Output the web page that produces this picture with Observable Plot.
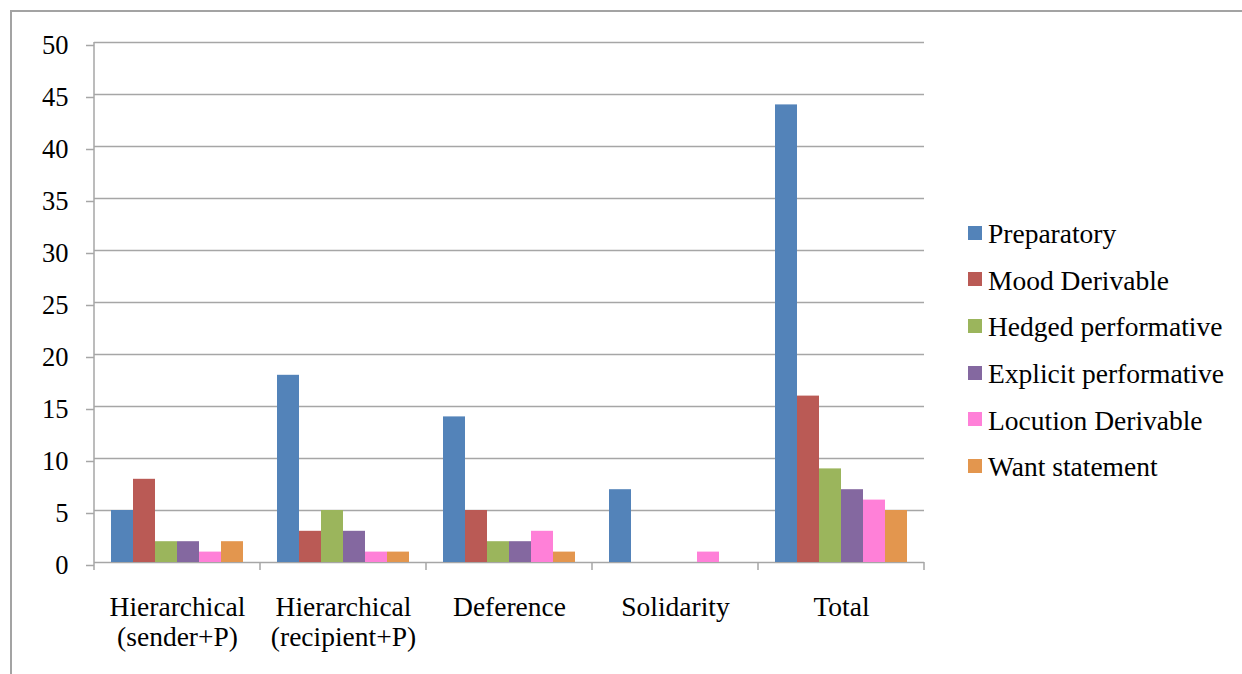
<!DOCTYPE html>
<html>
<head>
<meta charset="utf-8">
<script src="https://cdn.jsdelivr.net/npm/d3@7"></script>
<script src="https://cdn.jsdelivr.net/npm/@observablehq/plot@0.6"></script>
<style>
  html, body { margin: 0; padding: 0; background: #fff; overflow: hidden; }
  #wrap { position: relative; width: 1242px; height: 674px; }
  #border { position: absolute; left: 10px; top: 10px; width: 1300px; height: 800px; border: 2px solid #a3a3a3; box-sizing: border-box; pointer-events: none; }
  #chart { position: absolute; left: 0; top: 0; }
  #legend { position: absolute; left: 968px; top: 211px; font-family: "Liberation Serif", "Times New Roman", serif; font-size: 27.5px; color: #000; }
  .row { height: 46.6px; display: flex; align-items: center; white-space: nowrap; }
  .sw { width: 14px; height: 14px; margin-right: 6px; margin-top: -3px; flex: none; }
</style>
</head>
<body>
<div id="wrap">
  <div id="border"></div>
  <div id="chart"></div>
  <div id="legend"></div>
</div>
<script>
const groups = ["Hierarchical\n(sender+P)", "Hierarchical\n(recipient+P)", "Deference", "Solidarity", "Total"];
const series = ["Preparatory", "Mood Derivable", "Hedged performative", "Explicit performative", "Locution Derivable", "Want statement"];
const preparatory = [5, 18, 14, 7, 44];
const moodDerivable = [8, 3, 5, 0, 16];
const hedgedPerformative = [2, 5, 2, 0, 9];
const explicitPerformative = [2, 3, 2, 0, 7];
const locutionDerivable = [1, 1, 3, 1, 6];
const wantStatement = [2, 1, 1, 0, 5];
const yTicks = [0, 5, 10, 15, 20, 25, 30, 35, 40, 45, 50];
const colors = ["#5383B9", "#BA5A55", "#9BB55C", "#8468A0", "#FF80D8", "#E3964E"];

const seriesValues = [preparatory, moodDerivable, hedgedPerformative, explicitPerformative, locutionDerivable, wantStatement];
const data = [];
groups.forEach((g, gi) => {
  series.forEach((s, si) => {
    data.push({group: g, series: s, value: seriesValues[si][gi]});
  });
});

const gray = "#a6a6a6";
const plot = Plot.plot({
  width: 1242,
  height: 674,
  marginLeft: 93,
  marginRight: 317,
  marginTop: 42,
  marginBottom: 112,
  style: {fontFamily: "'Liberation Serif', 'Times New Roman', serif", fontSize: "26px", background: "transparent", color: "#000", overflow: "visible"},
  fx: {domain: groups, padding: 0, label: null},
  x: {domain: series, paddingInner: 0, paddingOuter: 0.75, axis: null},
  y: {domain: [0, 50], label: null},
  color: {domain: series, range: colors},
  marks: [
    Plot.gridY(yTicks, {stroke: gray, strokeOpacity: 1, strokeWidth: 1.5}),
    Plot.barY(data, {fx: "group", x: "series", y: "value", fill: "series"}),
    Plot.axisY(yTicks, {tickSize: 8, tickPadding: 18, stroke: gray, strokeWidth: 1.5, fontSize: 26.5, dy: 3, label: null}),
    Plot.axisFx({anchor: "bottom", tickSize: 0, tickPadding: 33, lineHeight: 1.07, fontSize: 27.5, label: null})
  ]
});
document.getElementById("chart").appendChild(plot);

// Axis line and category boundary tick marks, placed with the plot's own scales
const fx = plot.scale("fx");
const ys = plot.scale("y");
const y0 = ys.apply(0), y50 = ys.apply(50);
const svg = d3.select(plot);
const edges = groups.map(g => fx.apply(g));
edges.push(fx.apply(groups[groups.length - 1]) + fx.bandwidth);
svg.append("line")
  .attr("x1", edges[0]).attr("x2", edges[0])
  .attr("y1", y50).attr("y2", y0)
  .attr("stroke", gray).attr("stroke-width", 1.5);
svg.selectAll("line.edge").data(edges).join("line")
  .attr("class", "edge")
  .attr("x1", d => d).attr("x2", d => d)
  .attr("y1", y0).attr("y2", y0 + 8)
  .attr("stroke", gray).attr("stroke-width", 1.5);

// Legend
const legend = d3.select("#legend");
series.forEach((s, i) => {
  const row = legend.append("div").attr("class", "row");
  row.append("div").attr("class", "sw").style("background", colors[i]);
  row.append("span").text(s);
});
</script>
</body>
</html>
